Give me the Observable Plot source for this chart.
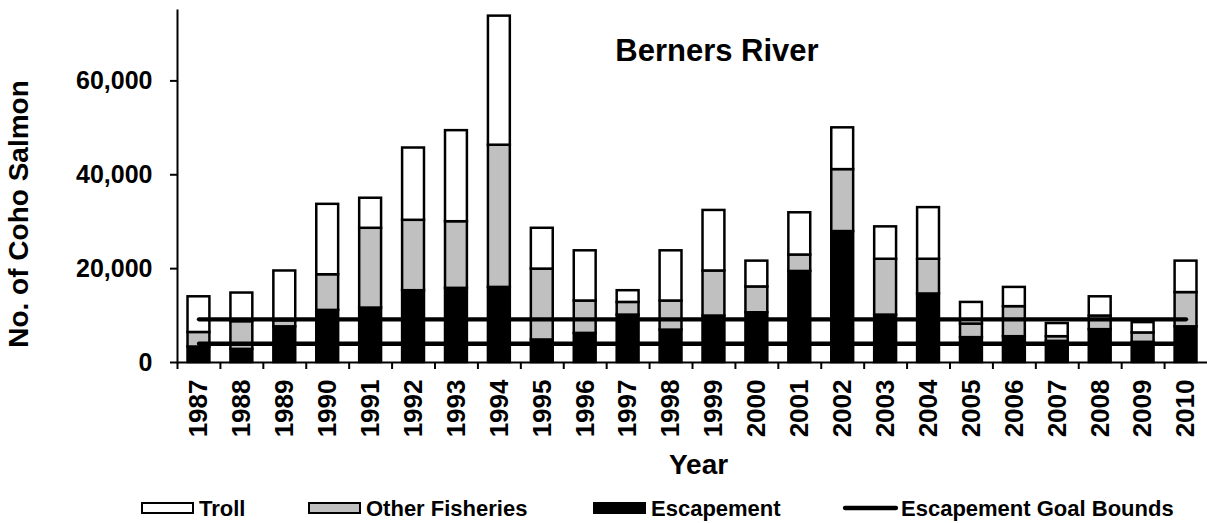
<!DOCTYPE html>
<html>
<head>
<meta charset="utf-8">
<script src="https://cdn.jsdelivr.net/npm/d3@7"></script>
<script src="https://cdn.jsdelivr.net/npm/@observablehq/plot@0.6"></script>
<style>
  html, body { margin: 0; padding: 0; background: #fff; }
  #wrap { width: 1207px; font-family: "Liberation Sans", Arial, sans-serif; font-weight: bold; }
  svg { display: block; }
</style>
</head>
<body>
<div id="wrap"></div>
<script>
const years = ["1987","1988","1989","1990","1991","1992","1993","1994","1995","1996","1997","1998",
               "1999","2000","2001","2002","2003","2004","2005","2006","2007","2008","2009","2010"];
const escapement     = [3300,2800,7600,11100,11600,15300,15800,16000,4800,6200,10100,6900,
                        9900,10600,19400,27900,10100,14600,5300,5500,4500,7000,4300,7600];
const otherFisheries = [3100,5900,1300,7600,17000,15000,14200,30300,15100,6900,2700,6200,
                        9600,5500,3500,13200,11900,7400,2900,6400,1000,2900,2000,7300];
const troll          = [7600,6100,10600,15000,6400,15400,19400,27500,8700,10700,2500,10700,
                        12900,5500,9000,8900,6900,11000,4600,4100,2800,4100,2200,6700];
const goalLower = 4000;
const goalUpper = 9200;
const yTicks = [0, 20000, 40000, 60000];
const seriesNames = ["Escapement", "Other Fisheries", "Troll"];
const seriesColors = ["#000000", "#c0c0c0", "#ffffff"];
const chartTitle = "Berners River";
const yLabel = "No. of Coho Salmon";
const xLabel = "Year";

const rows = [];
years.forEach((yr, i) => {
  rows.push({year: yr, series: "Escapement", value: escapement[i]});
  rows.push({year: yr, series: "Other Fisheries", value: otherFisheries[i]});
  rows.push({year: yr, series: "Troll", value: troll[i]});
});
const bounds = [];
years.forEach(yr => { bounds.push({year: yr, bound: "lower", value: goalLower}); bounds.push({year: yr, bound: "upper", value: goalUpper}); });

const W = 1207, H = 480;
const mL = 177, mR = 0, mT = 10, mB = H - 362;
const step = (W - mL - mR) / years.length;
const font = '"Liberation Sans", Arial, sans-serif';

const chart = Plot.plot({
  width: W, height: H,
  marginLeft: mL, marginRight: mR, marginTop: mT, marginBottom: mB,
  style: {fontFamily: font, fontWeight: "bold", background: "#fff"},
  x: {domain: years, paddingInner: 0.49, paddingOuter: 0.245, round: false, axis: null},
  y: {domain: [0, 75000], axis: null},
  color: {domain: seriesNames, range: seriesColors},
  marks: [
    Plot.barY(rows, Plot.stackY({x: "year", y: "value", z: "series", fill: "series", order: seriesNames,
      stroke: "#000", strokeWidth: 2.5})),
    Plot.lineY(bounds, {x: "year", y: "value", z: "bound", stroke: "#000", strokeWidth: 4.3, strokeLinecap: "round"}),
    Plot.ruleY([0], {stroke: "#000", strokeWidth: 2}),
    Plot.frame({anchor: "left", stroke: "#000", strokeWidth: 2}),
    Plot.axisY({ticks: yTicks, tickFormat: d3.format(","), tickSize: 7, tickPadding: 18, label: null,
      fontSize: 25, fontWeight: "bold", stroke: "#000", strokeWidth: 2, color: "#000"}),
    Plot.ruleX(years, {x: d => d, y1: 0, y2: 0, dx: -step / 2, insetBottom: -7, stroke: "#000", strokeWidth: 2}),
    Plot.axisX({tickSize: 0, tickPadding: 17, tickRotate: -90, label: null, fontSize: 26, fontWeight: "bold", color: "#000"}),
    Plot.text([chartTitle], {frameAnchor: "top", dx: 24.5, dy: 40.5, fontSize: 31, fontWeight: "bold", fill: "#000", lineAnchor: "middle"}),
    Plot.text([yLabel], {frameAnchor: "left", textAnchor: "middle", lineAnchor: "middle", rotate: -90, dx: 19 - mL, dy: 27.5, fontSize: 28, fontWeight: "bold", fill: "#000"}),
    Plot.text([xLabel], {frameAnchor: "bottom", lineAnchor: "middle", dx: 6, dy: 102.5, fontSize: 28, fontWeight: "bold", fill: "#000"})
  ]
});
document.getElementById("wrap").appendChild(chart);

// Legend below the plot
const legendItems = [
  {label: "Troll", kind: "box", fill: "#ffffff", x: 141},
  {label: "Other Fisheries", kind: "box", fill: "#c0c0c0", x: 308},
  {label: "Escapement", kind: "box", fill: "#000000", x: 593},
  {label: "Escapement Goal Bounds", kind: "line", fill: "#000000", x: 843}
];
const lg = d3.create("svg").attr("width", W).attr("height", 43).style("font-family", font).style("font-weight", "bold");
const cy = 28;
for (const it of legendItems) {
  if (it.kind === "box") {
    lg.append("rect").attr("x", it.x + 1).attr("y", cy - 5).attr("width", 51).attr("height", 10)
      .attr("fill", it.fill).attr("stroke", "#000").attr("stroke-width", 2);
  } else {
    lg.append("line").attr("x1", it.x + 2).attr("x2", it.x + 53).attr("y1", cy).attr("y2", cy)
      .attr("stroke", "#000").attr("stroke-width", 4.3).attr("stroke-linecap", "round");
  }
  lg.append("text").attr("x", it.x + 58).attr("y", cy + 7.9).attr("font-size", 22).attr("fill", "#000").text(it.label);
}
document.getElementById("wrap").appendChild(lg.node());
</script>
</body>
</html>
